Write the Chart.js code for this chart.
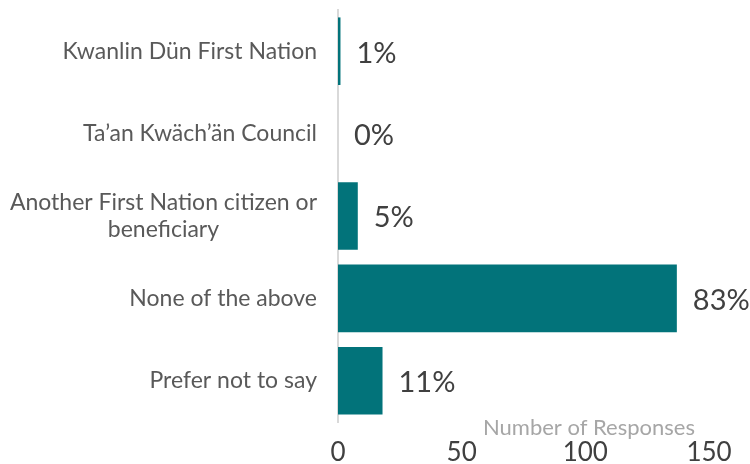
<!DOCTYPE html>
<html lang="en">
<head>
<meta charset="UTF-8">
<title>First Nation affiliation</title>
<script src="https://cdn.jsdelivr.net/npm/chart.js"></script>
<style>
body{margin:0;background:#fff;}
.wrap{width:750px;height:464px;}
</style>
</head>
<body>
<div class="wrap"><canvas id="chart" width="750" height="464"></canvas></div>
<script>
/* data */
const categories=[
    ["Kwanlin Dün First Nation"],
    ["Ta’an Kwäch’än Council"],
    ["Another First Nation citizen or","beneficiary"],
    ["None of the above"],
    ["Prefer not to say"]
];
const responses=[1,0,8,137,18];
const percentLabels=["1%","0%","5%","83%","11%"];
const xTicks=[0,50,100,150];
const xTitle="Number of Responses";

const FONT="Lato, 'Open Sans', sans-serif";
const TEAL="#02737a";

/* category labels, centred per block and right-aligned to the axis */
const catLabels={
    id:"catLabels",
    afterDraw(chart){
        const {ctx,scales:{y},chartArea}=chart;
        ctx.save();
        ctx.font="23px "+FONT;
        ctx.fillStyle="#595959";
        ctx.textAlign="center";
        ctx.textBaseline="middle";
        const right=chartArea.left-21, lh=27;
        categories.forEach((lines,i)=>{
            const w=Math.max(...lines.map(l=>ctx.measureText(l).width));
            const cx=right-w/2;
            const cy=y.getPixelForValue(i);
            lines.forEach((l,k)=>{
                ctx.fillText(l,cx,cy+(k-(lines.length-1)/2)*lh);
            });
        });
        ctx.restore();
    }
};

/* value labels + axis title */
const valueLabels={
    id:"valueLabels",
    afterDatasetsDraw(chart){
        const {ctx,chartArea}=chart;
        const meta=chart.getDatasetMeta(0);
        ctx.save();
        ctx.font="29px "+FONT;
        ctx.fillStyle="#404040";
        ctx.textAlign="left";
        ctx.textBaseline="middle";
        meta.data.forEach((bar,i)=>{
            ctx.fillText(percentLabels[i],bar.x+16,bar.y+2);
        });
        ctx.font="22px "+FONT;
        ctx.fillStyle="#a6a6a6";
        ctx.textAlign="right";
        ctx.fillText(xTitle,chartArea.right-14,chartArea.bottom+6);
        ctx.restore();
    }
};

new Chart(document.getElementById("chart"),{
    type:"bar",
    data:{
        labels:categories,
        datasets:[{
            data:responses,
            backgroundColor:TEAL,
            borderColor:TEAL,
            barPercentage:0.82,
            categoryPercentage:1
        }]
    },
    options:{
        indexAxis:"y",
        responsive:false,
        animation:false,
        layout:{padding:{left:337,right:41,top:10,bottom:0}},
        plugins:{legend:{display:false},tooltip:{enabled:false}},
        scales:{
            x:{
                min:0,max:150,
                afterBuildTicks:s=>{s.ticks=xTicks.map(v=>({value:v}));},
                afterFit:s=>{s.height=42;},
                grid:{display:false,drawTicks:false},
                border:{display:false},
                ticks:{color:"#404040",font:{family:FONT,size:26},padding:15}
            },
            y:{
                afterFit:s=>{s.width=1;},
                grid:{display:false,drawTicks:false},
                border:{display:true,color:"#d9d9d9",width:2},
                ticks:{display:false}
            }
        }
    },
    plugins:[catLabels,valueLabels]
});
</script>
</body>
</html>
